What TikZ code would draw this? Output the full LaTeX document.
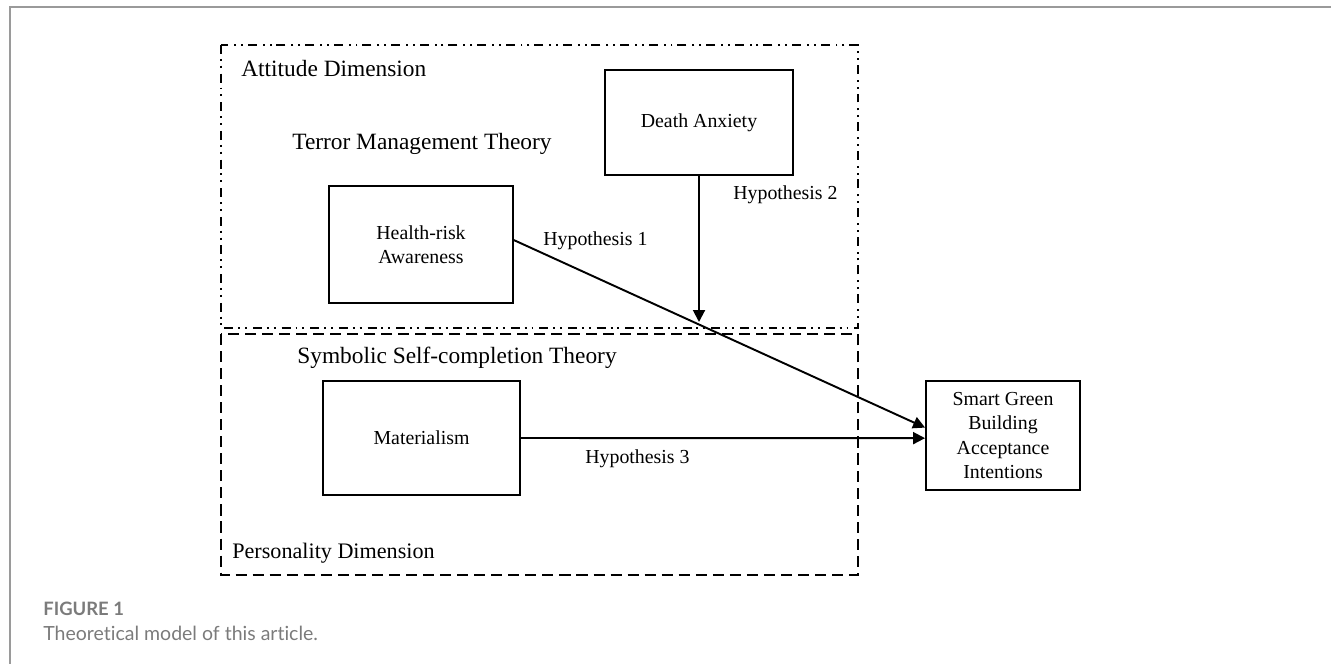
\documentclass[tikz,border=0pt]{standalone}
\usepackage{fontspec}
\setmainfont{Liberation Serif}
\newfontfamily\capfont[Ligatures={NoCommon,NoRare}]{Lato}
\usepackage{tikz}
\usetikzlibrary{arrows.meta,positioning,calc}
\usepackage{xcolor}
\definecolor{framegray}{HTML}{9A9A9A}
\definecolor{capgray}{HTML}{7B7B7B}

\begin{document}
\begin{tikzpicture}[x=0.02cm, y=-0.02cm, >={Triangle[length=6.8pt,width=6.8pt]},
    font=\fontsize{13.3}{14}\selectfont,
    box/.style={draw, line width=1.1pt, align=center, inner sep=0pt, font=\fontsize{11.3}{13.9}\selectfont},
    lbl/.style={anchor=base west, inner sep=0pt},
    hyplbl/.style={lbl, font=\fontsize{11.3}{13.9}\selectfont},
    hyp/.style={->, line width=1.1pt},
    dashdotdot/.style={line width=1pt, dash pattern=on 5.1pt off 2.8pt on 1.1pt off 2.8pt on 1.1pt off 3.4pt},
    dashbox/.style={line width=1pt, dash pattern=on 6.3pt off 3.4pt}]
  \useasboundingbox (0,0) rectangle (1331,664);
  % page frame
  \draw[framegray,line width=1.1pt] (1331,7) -- (10,7) -- (10,664);
  % dimension frames
  \draw[dashdotdot] (221,45) rectangle (858,328);
  \draw[dashbox] (221,334) rectangle (858,575);
  \node[lbl] (attdim) at (241,76) {Attitude Dimension};
  \node[lbl] (tmt) at (292,149) {Terror Management Theory};
  \node[lbl] (sst) at (297,363) {Symbolic Self-completion Theory};
  \node[lbl, font=\fontsize{12.6}{14}\selectfont] (perdim) at (232,558) {Personality Dimension};
  % constructs
  \node[box, minimum width=3.76cm, minimum height=2.1cm] (death) at (699,122.5) {Death Anxiety};
  \node[box, minimum width=3.68cm, minimum height=2.34cm] (health) at (421,244.5) {Health-risk\\Awareness};
  \node[box, minimum width=3.94cm, minimum height=2.28cm] (mater) at (421.5,438) {Materialism};
  \node[box, minimum width=3.08cm, minimum height=2.18cm] (smart) at (1003,435.5) {Smart Green\\Building\\Acceptance\\Intentions};
  % hypotheses
  \coordinate (h2end) at (699,322);
  \draw[hyp] ([yshift=2.5pt]health.east) -- ([yshift=4.5pt]smart.west);
  \draw[hyp] (death.south) -- (h2end);
  \draw[hyp] (mater.east) -- ([yshift=-1.5pt]smart.west);
  \node[hyplbl] (h1) at (543,245) {Hypothesis 1};
  \node[hyplbl] (h2) at (733,199) {Hypothesis 2};
  \node[hyplbl] (h3) at (585,463) {Hypothesis 3};
  % caption
  \node[lbl, text=capgray, font=\capfont\bfseries\fontsize{10.5}{12}\selectfont] (figno) at (43,615) {FIGURE 1};
  \node[lbl, text=capgray, font=\capfont\fontsize{11.1}{13}\selectfont] (figcap) at (43,640) {Theoretical model of this article.};
\end{tikzpicture}
\end{document}
